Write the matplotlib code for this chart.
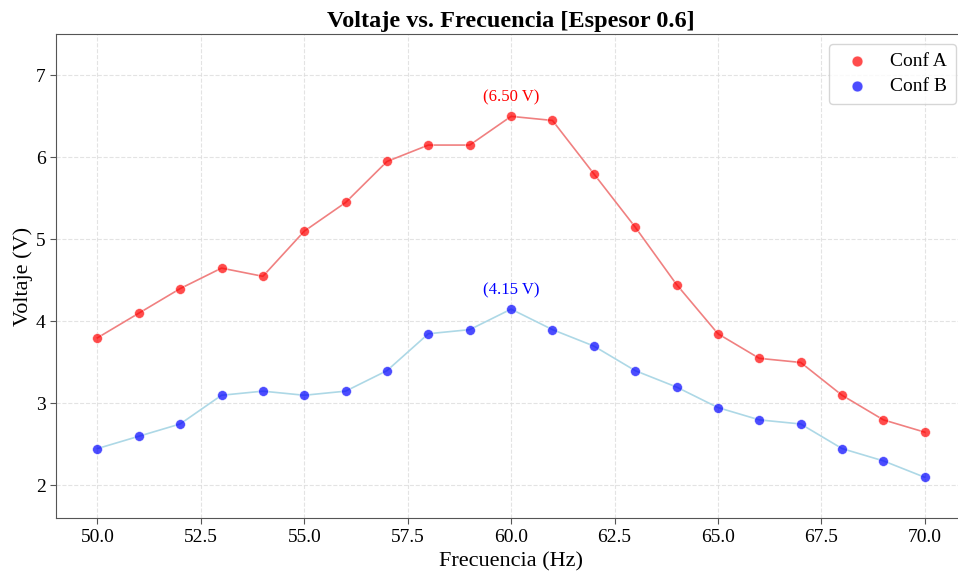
import matplotlib
matplotlib.use("Agg")
import matplotlib.pyplot as plt
import numpy as np

plt.rcParams['font.family'] = ['Liberation Serif', 'DejaVu Serif']

# datos
frecuencia = np.arange(50, 71)
conf_a = [3.80, 4.10, 4.40, 4.65, 4.55, 5.10, 5.45, 5.95, 6.15, 6.15, 6.50,
          6.45, 5.80, 5.15, 4.45, 3.85, 3.55, 3.50, 3.10, 2.80, 2.65]
conf_b = [2.45, 2.60, 2.75, 3.10, 3.15, 3.10, 3.15, 3.40, 3.85, 3.90, 4.15,
          3.90, 3.70, 3.40, 3.20, 2.95, 2.80, 2.75, 2.45, 2.30, 2.10]

fig = plt.figure(figsize=(9.58, 5.75), dpi=100)
ax = fig.add_axes([0.0585, 0.0986, 0.95, 0.8417])

ax.plot(frecuencia, conf_a, color='lightcoral', lw=1.2, zorder=2)
ax.plot(frecuencia, conf_b, color='lightblue', lw=1.2, zorder=2)
ax.scatter(frecuencia, conf_a, s=50, color='red', alpha=0.7, edgecolors='white',
           linewidths=0.5, label='Conf A', zorder=3)
ax.scatter(frecuencia, conf_b, s=50, color='blue', alpha=0.7, edgecolors='white',
           linewidths=0.5, label='Conf B', zorder=3)

# máximos
for serie, col in ((conf_a, 'red'), (conf_b, 'blue')):
    i = int(np.argmax(serie))
    ax.annotate(f'({serie[i]:.2f} V)', (frecuencia[i], serie[i]),
                xytext=(0, 8), textcoords='offset points', ha='center',
                va='bottom', color=col, fontsize=12)

ax.set_xlim(49, 71)
ax.set_ylim(1.6, 7.5)
ax.set_xticks(np.arange(50, 70.1, 2.5))
ax.set_yticks(np.arange(2, 7.1, 1))
ax.grid(True, ls='--', color='#dddddd', lw=0.8, alpha=0.8)
ax.set_axisbelow(True)
for s in ax.spines.values():
    s.set_color('#555555')
ax.tick_params(labelsize=14, color='#555555', length=4)

ax.set_title('Voltaje vs. Frecuencia [Espesor 0.6]', fontsize=17.5, fontweight='bold', pad=5)
ax.set_xlabel('Frecuencia (Hz)', fontsize=16, labelpad=5)
ax.set_ylabel('Voltaje (V)', fontsize=16, labelpad=2)
ax.legend(loc='upper right', fontsize=14, bbox_to_anchor=(0.989, 0.98),
          borderaxespad=0, handletextpad=0.7, borderpad=0.45, markerscale=1.1,
          labelspacing=0.35, edgecolor='#cccccc')

fig.savefig('out.png', dpi=100)
